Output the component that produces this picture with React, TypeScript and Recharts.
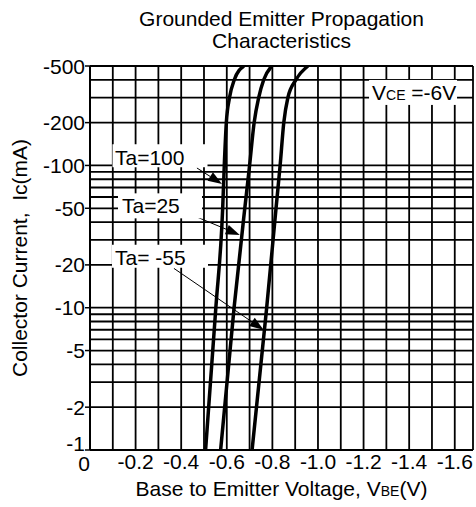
import React from 'react';
import {
    LineChart,
    Line,
    XAxis,
    YAxis,
    CartesianGrid,
    ReferenceDot,
    ReferenceLine,
} from 'recharts';

const FONT = '"Liberation Sans", Arial, sans-serif';

// collector current (mA, shown negative) at which the curves were read
const icSteps = [1, 10, 50, 100, 200, 300, 400, 500];

// base-emitter voltage (V, shown negative) for each ambient temperature
const vbeTa100 = [0.507, 0.552, 0.582, 0.589, 0.598, 0.612, 0.633, 0.675];
const vbeTa25 = [0.573, 0.632, 0.679, 0.7, 0.72, 0.74, 0.762, 0.797];
const vbeTaM55 = [0.711, 0.775, 0.816, 0.834, 0.85, 0.868, 0.903, 0.956];

const xGridTicks = [0, 0.1, 0.2, 0.3, 0.4, 0.5, 0.6, 0.7, 0.8, 0.9, 1.0, 1.1, 1.2, 1.3, 1.4, 1.5, 1.6, 1.68];
const xLabelTicks = [0, 0.2, 0.4, 0.6, 0.8, 1.0, 1.2, 1.4, 1.6];

const yGridTicks = [1, 2, 3, 4, 5, 6, 7, 8, 9, 10, 20, 30, 40, 50, 60, 70, 80, 90, 100, 200, 300, 400, 500];
const yLabelTicks = [1, 2, 5, 10, 20, 50, 100, 200, 500];

const toPoints = (vs: number[]) => vs.map((v, i) => ({ vbe: v, ic: icSteps[i] }));

const XTick = (props: any) => {
    const { x, y, payload } = props;
    const v = payload.value;
    if (!xLabelTicks.some(t => Math.abs(t - v) < 1e-6)) return null;
    const text = v === 0 ? '0' : '-' + v.toFixed(1);
    return (
        <text x={v === 0 ? x - 6 : x} y={v === 0 ? y + 2 : y} dy="0.71em" textAnchor="middle"
            fontSize={21} fill="#000" fontFamily={FONT}>
            {text}
        </text>
    );
};

const YTick = (props: any) => {
    const { x, y, payload } = props;
    const v = payload.value;
    if (!yLabelTicks.includes(v)) return null;
    // the lowest label sits a little above its line, clear of the x-axis "0"
    const ty = v === 1 ? y - 7 : y;
    return (
        <g>
            <line x1={x} y1={y} x2={x + 5} y2={y} stroke="#000" strokeWidth={1.5} />
            <text x={x} y={ty} dy="0.36em" textAnchor="end" fontSize={21} fill="#000" fontFamily={FONT}>
                {'-' + v}
            </text>
        </g>
    );
};

// white box with a text label, drawn at a data point
const boxLabel = (text: React.ReactNode, w: number, h: number, dx: number, dy: number) => (props: any) => {
    const { cx, cy } = props;
    return (
        <g>
            <rect x={cx - w / 2} y={cy - h / 2} width={w} height={h} fill="#fff" />
            <text x={cx + dx} y={cy + dy} fontSize={21} fill="#000" fontFamily={FONT} style={{ whiteSpace: 'pre' }}>
                {text}
            </text>
        </g>
    );
};

const Arrow = (props: any) => {
    const { x1, y1, x2, y2 } = props;
    const ang = Math.atan2(y2 - y1, x2 - x1);
    const len = 14;
    const half = 5;
    const bx = x2 - len * Math.cos(ang);
    const by = y2 - len * Math.sin(ang);
    const pts = [
        `${x2},${y2}`,
        `${bx - half * Math.sin(ang)},${by + half * Math.cos(ang)}`,
        `${bx + half * Math.sin(ang)},${by - half * Math.cos(ang)}`,
    ].join(' ');
    return (
        <g>
            <line x1={x1} y1={y1} x2={bx} y2={by} stroke="#000" strokeWidth={1} />
            <polygon points={pts} fill="#000" />
        </g>
    );
};

export default function App() {
    return (
        <div style={{ position: 'absolute', left: 0, top: 0, width: 476, height: 507, background: '#fff' }}>
            <LineChart width={476} height={507} margin={{ top: 66, right: 3, bottom: 0, left: 0 }}>
                <CartesianGrid stroke="#000" strokeWidth={1.8} />
                <XAxis
                    type="number"
                    dataKey="vbe"
                    domain={[0, 1.68]}
                    ticks={xGridTicks}
                    interval={0}
                    height={57}
                    tick={<XTick />}
                    tickLine={false}
                    tickSize={2}
                    tickMargin={2}
                    axisLine={{ stroke: '#000', strokeWidth: 2 }}
                    allowDataOverflow
                />
                <YAxis
                    type="number"
                    dataKey="ic"
                    scale="log"
                    domain={[1, 500]}
                    ticks={yGridTicks}
                    interval={0}
                    width={90}
                    tick={<YTick />}
                    tickLine={false}
                    tickSize={4}
                    tickMargin={1}
                    axisLine={{ stroke: '#000', strokeWidth: 2 }}
                    allowDataOverflow
                />

                <ReferenceDot x={0.307} y={117} r={1} shape={boxLabel('Ta=100', 95, 23, -45, 9)} />
                <ReferenceDot x={0.307} y={52} r={1} shape={boxLabel('Ta=25', 84, 25, -38, 7.5)} />
                <ReferenceDot x={0.307} y={23} r={1} shape={boxLabel('Ta= -55', 96, 23, -45, 8.5)} />
                <ReferenceDot
                    x={1.417}
                    y={326}
                    r={1}
                    shape={boxLabel(
                        <>
                            V<tspan fontSize={14}>CE</tspan> =-6V
                        </>,
                        88, 25, -41, 7.5
                    )}
                />

                <ReferenceLine segment={[{ x: 0.469, y: 96 }, { x: 0.579, y: 74 }]} shape={<Arrow />} />
                <ReferenceLine segment={[{ x: 0.421, y: 46.7 }, { x: 0.657, y: 32.5 }]} shape={<Arrow />} />
                <ReferenceLine segment={[{ x: 0.368, y: 18.9 }, { x: 0.761, y: 7 }]} shape={<Arrow />} />

                <Line data={toPoints(vbeTa100)} dataKey="ic" type="monotone" stroke="#000" strokeWidth={3.5}
                    dot={false} isAnimationActive={false} />
                <Line data={toPoints(vbeTa25)} dataKey="ic" type="monotone" stroke="#000" strokeWidth={3.5}
                    dot={false} isAnimationActive={false} />
                <Line data={toPoints(vbeTaM55)} dataKey="ic" type="monotone" stroke="#000" strokeWidth={3.5}
                    dot={false} isAnimationActive={false} />
            </LineChart>

            {/* title and axis titles */}
            <svg width={476} height={507} style={{ position: 'absolute', left: 0, top: 0, pointerEvents: 'none' }}
                fontFamily={FONT} fontSize={21} fill="#000">
                <text x={281.5} y={26} textAnchor="middle">Grounded Emitter Propagation</text>
                <text x={281.5} y={48} textAnchor="middle">Characteristics</text>
                <text x={27} y={258} textAnchor="middle" transform="rotate(-90 27 258)" style={{ whiteSpace: 'pre' }}>
                    {'Collector Current,  Ic(mA)'}
                </text>
                <text x={281.5} y={496} textAnchor="middle">
                    Base to Emitter Voltage, V<tspan fontSize={14}>BE</tspan>(V)
                </text>
            </svg>
        </div>
    );
}
